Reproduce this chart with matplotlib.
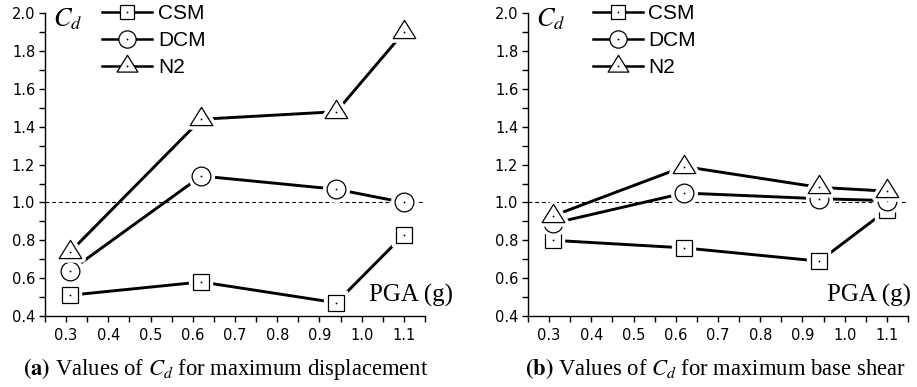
import matplotlib
matplotlib.use("Agg")
import matplotlib.pyplot as plt
from matplotlib.path import Path
from matplotlib.lines import Line2D
from matplotlib.legend_handler import HandlerTuple
from matplotlib.ticker import MultipleLocator, FixedLocator, FormatStrFormatter

plt.rcParams['mathtext.fontset'] = 'stix'

# Peak ground acceleration levels (g)
pga = [0.31, 0.62, 0.94, 1.10]

# (a) Cd for maximum displacement
disp_csm = [0.51, 0.58, 0.47, 0.83]
disp_dcm = [0.64, 1.14, 1.07, 1.00]
disp_n2 = [0.74, 1.44, 1.48, 1.90]

# (b) Cd for maximum base shear
shear_csm = [0.80, 0.76, 0.69, 0.96]
shear_dcm = [0.89, 1.05, 1.02, 1.01]
shear_n2 = [0.93, 1.19, 1.08, 1.06]

series_names = ["CSM", "DCM", "N2"]
x_tick_labels = ["0.3", "0.4", "0.5", "0.6", "0.7", "0.8", "0.9", "1.0", "1.1"]
captions = [r"$\mathbf{(a)}$ Values of $C_d$ for maximum displacement",
            r"$\mathbf{(b)}$ Values of $C_d$ for maximum base shear"]

# triangle with its centroid at the marker origin
tri = Path([(0, 2 / 3), (-0.62, -1 / 3), (0.62, -1 / 3), (0, 2 / 3)],
           [Path.MOVETO, Path.LINETO, Path.LINETO, Path.CLOSEPOLY])
markers = ["s", "o", tri]
msizes = [11.5, 13.5, 17.5]

fig = plt.figure(figsize=(9.17, 3.87), dpi=100)
ax_w = 380 / 917
ax_b = 71 / 387
ax_h = 302.7 / 387
axes = [fig.add_axes([45 / 917, ax_b, ax_w, ax_h]),
        fig.add_axes([528 / 917, ax_b, ax_w, ax_h])]

panels = [[disp_csm, disp_dcm, disp_n2], [shear_csm, shear_dcm, shear_n2]]
legend_x = [0.15, 0.17]
pga_right = [453 / 917, 911 / 917]
cap_x = [226 / 917, 715.5 / 917]

for k, (ax, data) in enumerate(zip(axes, panels)):
    ax.axhline(1.0, color="black", lw=0.8, ls=(0, (3.5, 2.5)), zorder=1)
    handles = []
    for i, (vals, m, ms) in enumerate(zip(data, markers, msizes)):
        ax.plot(pga, vals, color="black", lw=2.1, zorder=2,
                solid_capstyle="butt")
        # white halo leaves a small gap where the line meets each marker
        ax.plot(pga, vals, ls="none", marker=m, ms=ms, mfc="white",
                mec="white", mew=6, zorder=3 + 3 * i)
        ax.plot(pga, vals, ls="none", marker=m, ms=ms, mfc="white",
                mec="black", mew=0.9, zorder=4 + 3 * i)
        ax.plot(pga, vals, ls="none", marker="o", ms=1.3, mfc="black",
                mec="none", zorder=5 + 3 * i)
        hl = Line2D([], [], color="black", lw=1.8, marker=m, ms=ms * 0.92,
                    mfc="white", mec="black", mew=0.9)
        hd = Line2D([], [], ls="none", marker="o", ms=1.3, mfc="black",
                    mec="none")
        handles.append((hl, hd))

    ax.set_xlim(0.25, 1.15)
    ax.set_ylim(0.4, 2.0)
    for side in ("top", "right"):
        ax.spines[side].set_visible(False)
    for side in ("left", "bottom"):
        ax.spines[side].set_linewidth(1.0)

    ax.xaxis.set_major_locator(FixedLocator([0.3 + 0.1 * j for j in range(9)]))
    ax.set_xticklabels(x_tick_labels)
    ax.xaxis.set_minor_locator(MultipleLocator(0.05))
    ax.yaxis.set_major_locator(MultipleLocator(0.2))
    ax.yaxis.set_minor_locator(MultipleLocator(0.1))
    ax.yaxis.set_major_formatter(FormatStrFormatter("%.1f"))
    ax.tick_params(which="both", direction="out", length=4.5, width=1.0)
    ax.tick_params(axis="y", pad=2.5)
    ax.tick_params(axis="x", pad=4)
    for lab in ax.get_xticklabels() + ax.get_yticklabels():
        lab.set_fontfamily("DejaVu Sans")
        lab.set_fontsize(10.5)

    ax.text(0.02, 0.956, r"$C_d$", transform=ax.transAxes, fontsize=19,
            ha="left", va="baseline")

    leg = ax.legend(handles, series_names,
                    handler_map={tuple: HandlerTuple(ndivide=1, pad=0)},
                    loc="upper left", bbox_to_anchor=(legend_x[k], 1.03),
                    frameon=False, prop={"family": "Liberation Sans", "size": 15},
                    handlelength=2.4, handletextpad=0.28, labelspacing=0.38,
                    borderpad=0, borderaxespad=0)
    leg.set_zorder(20)

    fig.text(pga_right[k], (387 - 302) / 387, "PGA (g)",
             family="Liberation Serif", fontsize=18, ha="right", va="baseline")
    fig.text(cap_x[k], 12 / 387, captions[k], family="Liberation Serif",
             fontsize=16.3, ha="center", va="baseline")

fig.savefig("out.png", dpi=100)
